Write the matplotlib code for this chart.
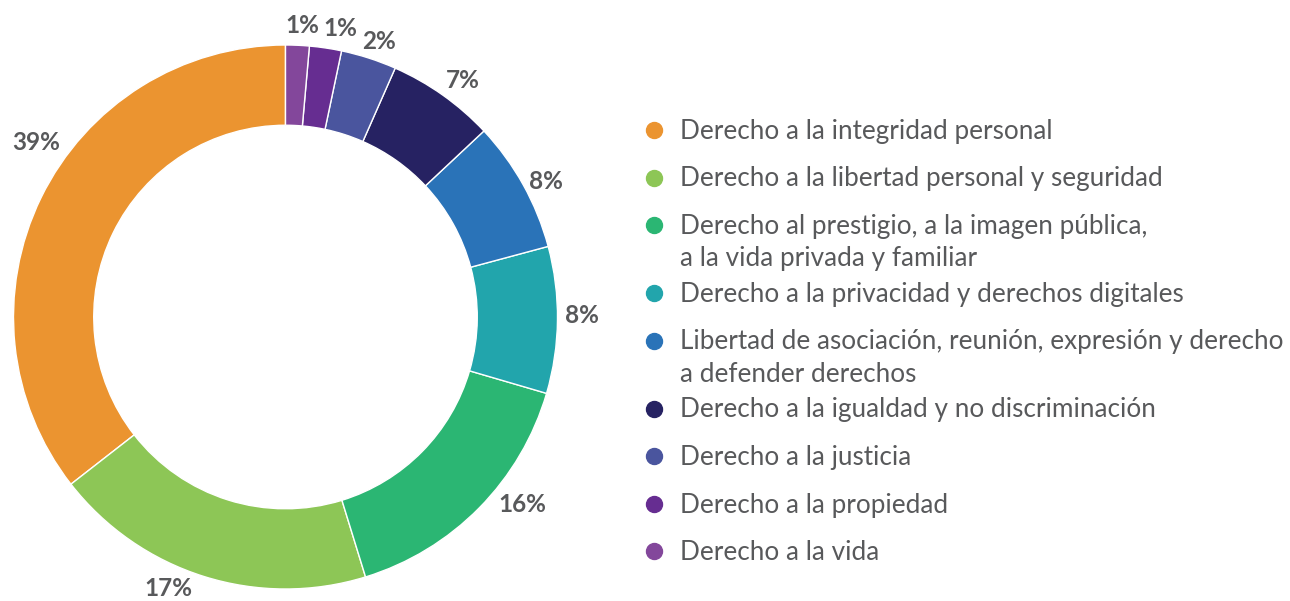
import numpy as np
import matplotlib
matplotlib.use("Agg")
import matplotlib.pyplot as plt

plt.rcParams['font.family'] = ['Lato', 'DejaVu Sans']

categories = [
    "Derecho a la integridad personal",
    "Derecho a la libertad personal y seguridad",
    "Derecho al prestigio, a la imagen pública,\na la vida privada y familiar",
    "Derecho a la privacidad y derechos digitales",
    "Libertad de asociación, reunión, expresión y derecho\na defender derechos",
    "Derecho a la igualdad y no discriminación",
    "Derecho a la justicia",
    "Derecho a la propiedad",
    "Derecho a la vida",
]
# slice sizes as drawn in the chart
values = [35.5, 19.2, 15.7, 8.7, 7.8, 6.4, 3.3, 1.9, 1.4]
# percentages printed next to the slices
pct_labels = ["39%", "17%", "16%", "8%", "8%", "7%", "2%", "1%", "1%"]
colors = ["#EB9430", "#8DC656", "#2BB673", "#22A5AC", "#2A73B8",
          "#262262", "#4A559E", "#662D91", "#83479B"]
label_nudge = [-9, -5.8, 6.2, 0.9, -1.7, -1.5, -1, -2.2, -0.7]
label_rad = [1.12, 1.085, 1.11, 1.09, 1.08, 1.085, 1.07, 1.08, 1.075]

text_color = "#58595B"
W, H = 1290, 601
fig = plt.figure(figsize=(W / 100, H / 100), dpi=100)

cx, cy, R = 285.5, 317, 272
half = 300
ax = fig.add_axes([(cx - half) / W, (H - cy - half) / H, 2 * half / W, 2 * half / H])
wedges, _ = ax.pie(values, colors=colors, startangle=90, counterclock=True,
                   radius=1, wedgeprops=dict(width=0.295, edgecolor="white", linewidth=1))
lim = half / R
ax.set_xlim(-lim, lim)
ax.set_ylim(-lim, lim)
ax.set_aspect("equal")
ax.axis("off")

for w, lab, nd, r in zip(wedges, pct_labels, label_nudge, label_rad):
    ang = np.deg2rad((w.theta1 + w.theta2) / 2 + nd)
    ax.text(r * np.cos(ang), r * np.sin(ang), lab, ha="center", va="center",
            fontsize=17.5, fontweight="bold", color=text_color)

# legend drawn by hand so the dot sits on the first line
y = 130
for cat, col in zip(categories, colors):
    lines = cat.split("\n")
    for k, line in enumerate(lines):
        fig.text(680 / W, 1 - (y + 9 + 32 * k) / H, line, ha="left", va="baseline",
                 fontsize=18.8, color=text_color)
    fig.add_artist(plt.Line2D([654 / W], [1 - y / H], marker="o", markersize=11.5,
                              color=col, linestyle="none", transform=fig.transFigure))
    y += 47.5 + 20.5 * (len(lines) - 1)

fig.savefig("out.png", dpi=100)
